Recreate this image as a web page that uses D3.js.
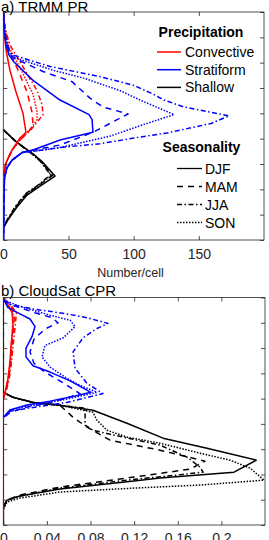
<!DOCTYPE html>
<html><head><meta charset="utf-8">
<script src="https://cdn.jsdelivr.net/npm/d3@7"></script>
<style>body{margin:0;background:#fff}svg{display:block}</style>
</head><body>
<script>
// ---------- data (value, height in km) ----------
const seasons = ["DJF", "MAM", "JJA", "SON"];
const types = ["Convective", "Stratiform", "Shallow"];
const heightTicks = [0, 2, 4, 6, 8, 10, 12, 14, 16, 18];
const trmmTicks = [0, 50, 100, 150];
const cprTicks = [0, 0.04, 0.08, 0.12, 0.16, 0.2];

const trmmConvective = {
  DJF: [[0,18],[0.5,16.6],[2.1,15.0],[5.1,13.4],[9.7,11.7],[15.1,10.0],[17.4,8.5],[12.8,8.05],[6.7,7.1],[2.1,6.1],[0.2,5.1]],
  MAM: [[0,18],[1.3,16.6],[4.4,15.0],[11.3,13.4],[18.2,11.7],[22.0,10.1],[22.8,9.1],[19.0,8.5],[12.8,7.9],[6.7,7.1],[2.1,6.1],[0.2,5.1]],
  JJA: [[0,18],[1.3,16.7],[5.1,15.4],[16.6,13.4],[25.9,11.8],[29.7,10.7],[30.5,9.9],[22.0,8.8],[12.8,7.9],[6.7,7.1],[2.1,6.1],[0.2,5.1]],
  SON: [[0,18],[1.3,16.7],[4.4,15.2],[14.3,13.3],[22.8,11.5],[25.9,10.1],[25.9,9.5],[20.5,8.7],[12.8,7.9],[6.7,7.1],[2.1,6.1],[0.2,5.1]]
};
const trmmStratiform = {
  DJF: [[0.2,18],[0.5,16.6],[2.1,15.4],[4.4,14.6],[8.2,14.05],[22.8,12.6],[43.5,11.05],[65.8,9.9],[68.1,9.5],[68.8,8.5],[43.5,7.9],[22.8,7.1],[14.4,6.9],[6.7,6.3],[2.8,5.7],[0.9,4.9],[0.5,3.2],[0.2,0]],
  MAM: [[0.2,18],[1.3,16.2],[4.4,14.8],[7.4,14.4],[30.5,13.3],[52.7,12.5],[66.5,11.2],[76.5,10.5],[95.7,9.95],[68.8,8.5],[43.5,7.5],[22.8,7.1],[14.4,6.9],[6.7,6.3],[2.8,5.7],[0.9,4.9],[0.5,3.2],[0.2,0]],
  JJA: [[0.2,18],[1.3,16.2],[4.4,15.0],[7.4,14.6],[35.8,13.7],[74.2,12.9],[100.3,12.2],[113.3,11.6],[123.3,11.05],[138.6,10.5],[173.2,9.8],[159.4,9.2],[125.6,8.45],[100.3,8.05],[74.2,7.6],[43.5,7.3],[22.8,7.0],[14.4,6.9],[6.7,6.3],[2.8,5.7],[0.9,4.9],[0.5,3.2],[0.2,0]],
  SON: [[0.2,18],[1.3,16.2],[4.4,14.8],[7.4,14.45],[38.1,13.4],[61.1,12.8],[89.5,11.8],[104.9,11.05],[131,9.9],[107.2,9.1],[81.9,8.2],[43.5,7.3],[22.8,7.0],[14.4,6.9],[6.7,6.3],[2.8,5.7],[0.9,4.9],[0.5,3.2],[0.2,0]]
};
const trmmShallow = {
  DJF: [[0,8.7],[10.5,7.7],[22.8,6.8],[29.7,6.2],[39.7,5.05],[28.2,4.25],[18.2,3.55],[10.5,2.6],[3.6,1.6],[0,0.95]],
  MAM: [[0,8.7],[10.5,7.7],[22.4,6.8],[29.0,6.2],[37.8,5.1],[27.0,4.3],[17.5,3.6],[10.0,2.65],[3.4,1.6],[0,0.95]],
  JJA: [[0,8.7],[10.5,7.7],[22.0,6.8],[28.5,6.2],[36.2,5.15],[26.2,4.3],[17.0,3.65],[9.6,2.7],[3.2,1.65],[0,1.0]],
  SON: [[0,8.7],[10.5,7.7],[22.2,6.8],[28.8,6.2],[37.0,5.1],[26.6,4.3],[17.2,3.6],[9.8,2.65],[3.3,1.6],[0,0.95]]
};

const cprConvective = {
  DJF: [[0.0002,17.9],[0.0043,17.4],[0.008,16.8],[0.0089,15.8],[0.0071,14.2],[0.0061,12.9],[0.0043,11.6],[0.0016,10.5],[0,10.0],[0,0]],
  MAM: [[0.0002,17.9],[0.006,17.4],[0.0105,16.8],[0.0095,15.8],[0.008,14.2],[0.007,12.9],[0.005,11.6],[0.002,10.5],[0,10.0],[0,0]],
  JJA: [[0.0002,17.9],[0.007,17.4],[0.012,16.8],[0.011,15.8],[0.009,14.2],[0.0075,12.9],[0.0055,11.6],[0.0025,10.5],[0,10.0],[0,0]],
  SON: [[0.0002,17.9],[0.005,17.4],[0.009,16.8],[0.0085,15.8],[0.0075,14.2],[0.0065,12.9],[0.0045,11.6],[0.0018,10.5],[0,10.0],[0,0]]
};
const cprStratiform = {
  DJF: [[0.0006,17.8],[0.0043,17.2],[0.0153,16.7],[0.0245,16.3],[0.0291,15.7],[0.0263,14.9],[0.0208,14.0],[0.0208,13.3],[0.0272,12.6],[0.0428,12.1],[0.0612,11.4],[0.0804,10.5],[0.0658,10.2],[0.0428,9.8],[0.0217,9.5],[0.0061,9.1],[0,8.5]],
  MAM: [[0.0006,17.8],[0.008,17.4],[0.029,16.8],[0.0447,16.4],[0.0502,16.0],[0.0382,15.5],[0.0281,14.7],[0.0245,13.7],[0.0281,12.8],[0.0382,12.1],[0.0538,11.3],[0.0703,10.4],[0.0566,10.0],[0.0382,9.6],[0.0199,9.3],[0.0061,8.9],[0,8.45]],
  JJA: [[0.0006,17.8],[0.0061,17.45],[0.0272,17.1],[0.0584,16.7],[0.0768,16.4],[0.096,15.95],[0.0859,15.55],[0.0731,14.8],[0.064,13.7],[0.0658,12.4],[0.0768,11.2],[0.0914,10.4],[0.0584,9.7],[0.0272,9.3],[0.0061,9.0],[0,8.6]],
  SON: [[0.0006,17.8],[0.0153,17.3],[0.0428,16.6],[0.0612,16.2],[0.0658,15.7],[0.0548,14.8],[0.0382,14.2],[0.0355,13.3],[0.0428,12.5],[0.0566,11.7],[0.0703,11.05],[0.0859,10.5],[0.0658,10.1],[0.0428,9.7],[0.0217,9.4],[0.0061,9.1],[0,8.5]]
};
const cprShallow = {
  DJF: [[0,18],[0,10.5],[0.0089,10.1],[0.0272,9.7],[0.052,9.47],[0.0822,9.08],[0.1134,8.05],[0.1465,6.87],[0.1868,6.08],[0.232,5.13],[0.2116,4.18],[0.1437,3.71],[0.1199,3.48],[0.052,2.84],[0.0153,2.29],[0.0034,1.97],[0,1.34],[0,0]],
  MAM: [[0,18],[0,10.5],[0.0089,10.1],[0.0272,9.7],[0.052,9.47],[0.0639,8.53],[0.0768,7.74],[0.0979,6.71],[0.1437,5.92],[0.185,5.05],[0.1712,4.42],[0.1199,3.79],[0.052,3.0],[0.0153,2.37],[0.0034,1.97],[0,1.5],[0,0]],
  JJA: [[0,18],[0,10.5],[0.0089,10.1],[0.0272,9.7],[0.052,9.47],[0.075,9.24],[0.075,7.9],[0.0822,7.5],[0.0979,7.18],[0.1437,6.32],[0.1685,5.37],[0.1804,4.58],[0.1832,4.18],[0.1593,3.95],[0.1134,3.55],[0.052,2.92],[0.0153,2.29],[0.0034,1.97],[0,1.42],[0,0]],
  SON: [[0,18],[0,10.5],[0.0089,10.1],[0.0272,9.7],[0.052,9.47],[0.0822,8.92],[0.0859,8.29],[0.0951,7.5],[0.1134,6.95],[0.1437,6.47],[0.1804,5.68],[0.2079,5.13],[0.2263,4.5],[0.2391,3.55],[0.1804,3.16],[0.1199,2.92],[0.052,2.61],[0.0153,2.13],[0.0034,1.82],[0,1.18],[0,0]]
};

// ---------- styles ----------
const typeColor = { Convective: "#ff0000", Stratiform: "#0000ff", Shallow: "#000000" };
const seasonDash = { DJF: null, MAM: "6,5", JJA: "5,2.5,1.5,2.5", SON: "1.5,1.5" };
const axisColor = "#262626";
const font = "'Liberation Sans', Arial, Helvetica, sans-serif";

const W = 269, H = 540;
const svg = d3.select("body").append("svg").attr("width", W).attr("height", H)
  .style("font-family", font);

function panel(cfg) {
  const x = d3.scaleLinear().domain(cfg.xDomain).range([cfg.left, cfg.right]);
  const y = d3.scaleLinear().domain([0, 18]).range([cfg.bottom, cfg.top]);
  const g = svg.append("g");
  const clipId = "clip" + cfg.id;
  svg.append("clipPath").attr("id", clipId).append("rect")
    .attr("x", cfg.left).attr("y", cfg.top)
    .attr("width", cfg.right - cfg.left).attr("height", cfg.bottom - cfg.top);

  const line = d3.line().x(d => x(d[0])).y(d => y(d[1]));
  const curves = g.append("g").attr("clip-path", `url(#${clipId})`);
  const order = [["Shallow", cfg.shallow], ["Convective", cfg.conv], ["Stratiform", cfg.strat]];
  order.forEach(([t, obj]) => {
    seasons.forEach(s => {
      curves.append("path").datum(obj[s])
        .attr("d", line).attr("fill", "none")
        .attr("stroke", typeColor[t]).attr("stroke-width", 1.5)
        .attr("stroke-linejoin", "round")
        .attr("stroke-dasharray", seasonDash[s]);
    });
  });

  const fmt = d => String(+d.toFixed(2));
  const axB = g.append("g").attr("transform", `translate(0,${cfg.bottom})`)
    .call(d3.axisBottom(x).tickValues(cfg.ticks).tickSizeInner(-4).tickSizeOuter(0)
      .tickPadding(cfg.labelPad).tickFormat(fmt));
  const axT = g.append("g").attr("transform", `translate(0,${cfg.top})`)
    .call(d3.axisTop(x).tickValues(cfg.ticks).tickSizeInner(-4).tickSizeOuter(0).tickFormat(""));
  const axL = g.append("g").attr("transform", `translate(${cfg.left},0)`)
    .call(d3.axisLeft(y).tickValues(heightTicks).tickSizeInner(-4).tickSizeOuter(0).tickFormat(""));
  const axR = g.append("g").attr("transform", `translate(${cfg.right},0)`)
    .call(d3.axisRight(y).tickValues(heightTicks).tickSizeInner(-4).tickSizeOuter(0).tickFormat(""));
  [axB, axT, axL, axR].forEach(a => {
    a.select(".domain").remove();
    a.selectAll("line").attr("stroke", axisColor).attr("stroke-width", 0.8);
    a.selectAll("text").attr("fill", axisColor).style("font-size", "14px").style("font-family", font);
  });
  g.append("rect").attr("x", cfg.left).attr("y", cfg.top)
    .attr("width", cfg.right - cfg.left).attr("height", cfg.bottom - cfg.top)
    .attr("fill", "none").attr("stroke", axisColor).attr("stroke-width", 0.8);
  if (cfg.redAxis) {
    g.append("g").attr("clip-path", `url(#${clipId})`).append("path").datum(cfg.conv.DJF)
      .attr("d", line).attr("fill", "none").attr("stroke", typeColor.Convective).attr("stroke-width", 1.5);
  }
  svg.append("text").attr("x", 1).attr("y", cfg.titleY).text(cfg.title)
    .style("font-size", "15px").attr("fill", "#000");
  return { x, y };
}

panel({ id: "a", left: 3.3, right: 264, top: 12, bottom: 240, xDomain: [0, 200],
  ticks: trmmTicks, conv: trmmConvective, strat: trmmStratiform, shallow: trmmShallow,
  title: "a) TRMM PR", titleY: 11.5, labelPad: 9.5 });
panel({ id: "b", left: 3.3, right: 265, top: 297.5, bottom: 525, xDomain: [0, 0.24],
  ticks: cprTicks, conv: cprConvective, strat: cprStratiform, shallow: cprShallow,
  title: "b) CloudSat CPR", titleY: 296, labelPad: 8 });

svg.append("text").attr("x", 130.5).attr("y", 277).attr("text-anchor", "middle")
  .style("font-size", "12.5px").attr("fill", axisColor).text("Number/cell");

// ---------- legends ----------
const lg1 = svg.append("g");
lg1.append("text").attr("x", 201).attr("y", 37).attr("text-anchor", "middle")
  .style("font-size", "14px").style("font-weight", "bold").text("Precipitation");
types.forEach((t, i) => {
  const yy = 52 + i * 17.7;
  lg1.append("line").attr("x1", 157).attr("x2", 181).attr("y1", yy).attr("y2", yy)
    .attr("stroke", typeColor[t]).attr("stroke-width", 1.5);
  lg1.append("text").attr("x", 185).attr("y", yy + 5).style("font-size", "14px").text(t);
});
const lg2 = svg.append("g");
lg2.append("text").attr("x", 201.5).attr("y", 152).attr("text-anchor", "middle")
  .style("font-size", "14px").style("font-weight", "bold").text("Seasonality");
seasons.forEach((s, i) => {
  const yy = 168.5 + i * 18;
  lg2.append("line").attr("x1", 177).attr("x2", 202).attr("y1", yy).attr("y2", yy)
    .attr("stroke", "#000").attr("stroke-width", 1.3).attr("stroke-dasharray", seasonDash[s]);
  lg2.append("text").attr("x", 205).attr("y", yy + 5).style("font-size", "14px").text(s);
});
</script>
</body></html>
